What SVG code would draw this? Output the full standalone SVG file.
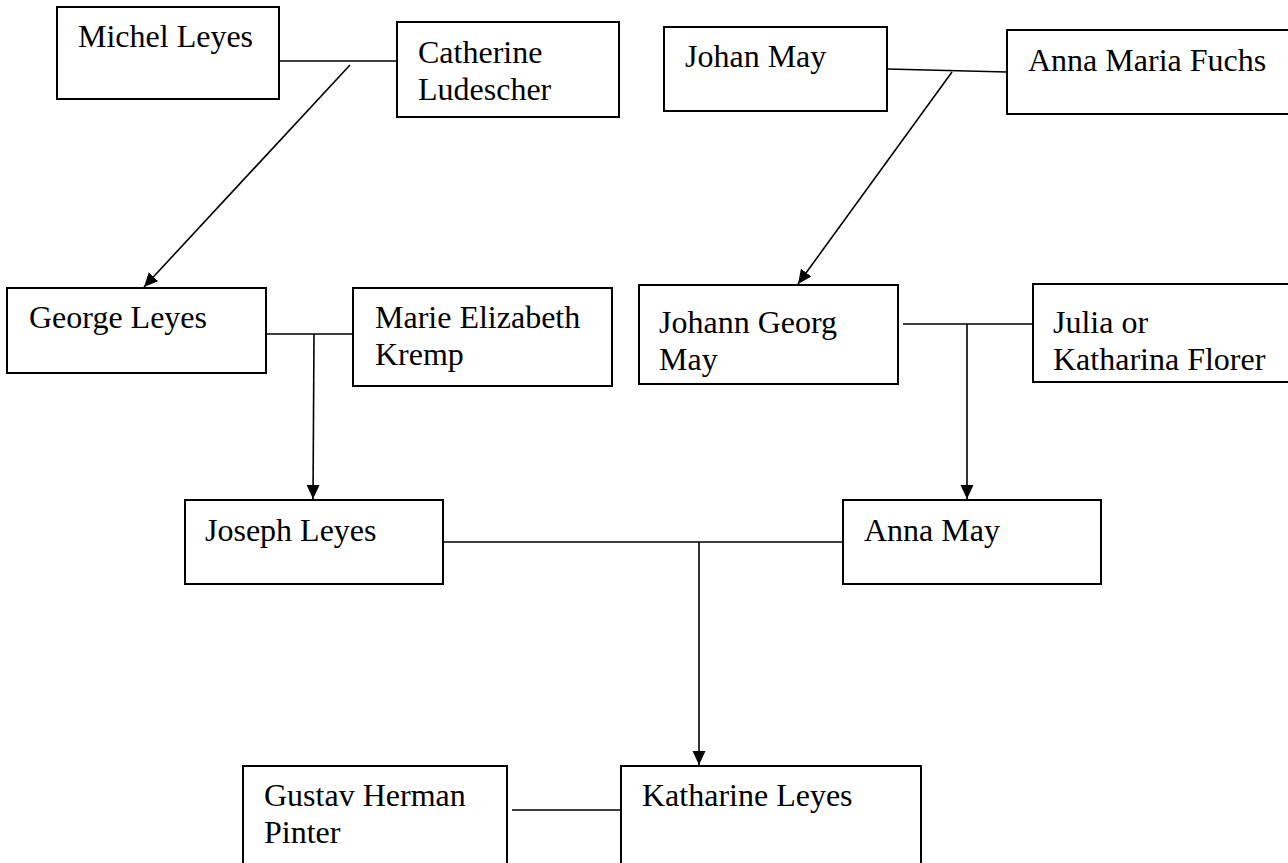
<svg xmlns="http://www.w3.org/2000/svg" width="1288" height="863" viewBox="0 0 1288 863">
<style>
.box{fill:#fff;stroke:#000;stroke-width:2}
.t{font-family:"Liberation Serif","Times New Roman",serif;font-size:32px;fill:#000}
.c{stroke:#000;stroke-width:1.6;fill:none}
.a{marker-end:url(#arr)}
</style>
<defs>
<marker id="arr" markerUnits="userSpaceOnUse" markerWidth="15" markerHeight="14" refX="14" refY="6.5" orient="auto" viewBox="0 0 15 14">
<path d="M0,0 L14,6.5 L0,13 z" fill="#000"/>
</marker>
</defs>
<rect width="1288" height="863" fill="#fff"/>
<g id="connectors">
<line class="c" x1="279" y1="61" x2="397" y2="61"/>
<line class="c a" x1="350" y1="65" x2="144" y2="287"/>
<line class="c" x1="887" y1="69" x2="1007" y2="72"/>
<line class="c a" x1="952" y1="72" x2="798" y2="284"/>
<line class="c" x1="266" y1="334" x2="353" y2="334"/>
<line class="c a" x1="314" y1="334" x2="313" y2="499"/>
<line class="c" x1="903" y1="324" x2="1033" y2="324"/>
<line class="c a" x1="967" y1="324" x2="967" y2="499"/>
<line class="c" x1="443" y1="542" x2="843" y2="542"/>
<line class="c a" x1="699" y1="542" x2="699" y2="765"/>
<line class="c" x1="512" y1="810" x2="621" y2="810"/>
</g>
<g id="michel"><rect class="box" x="57" y="7" width="222" height="92"/><text class="t" x="78" y="47">Michel Leyes</text></g>
<g id="catherine"><rect class="box" x="397" y="22" width="222" height="95"/><text class="t" x="418" y="63">Catherine</text><text class="t" x="418" y="100">Ludescher</text></g>
<g id="johan"><rect class="box" x="664" y="27" width="223" height="84"/><text class="t" x="685" y="67">Johan May</text></g>
<g id="annamaria"><rect class="box" x="1007" y="30" width="300" height="84"/><text class="t" x="1028" y="71">Anna Maria Fuchs</text></g>
<g id="george"><rect class="box" x="7" y="288" width="259" height="85"/><text class="t" x="29" y="328">George Leyes</text></g>
<g id="marie"><rect class="box" x="353" y="288" width="259" height="98"/><text class="t" x="375" y="328">Marie Elizabeth</text><text class="t" x="375" y="365">Kremp</text></g>
<g id="johanngeorg"><rect class="box" x="639" y="285" width="259" height="99"/><text class="t" x="659" y="333">Johann Georg</text><text class="t" x="659" y="370">May</text></g>
<g id="julia"><rect class="box" x="1033" y="284" width="280" height="98"/><text class="t" x="1053" y="333">Julia or</text><text class="t" x="1053" y="370">Katharina Florer</text></g>
<g id="joseph"><rect class="box" x="185" y="500" width="258" height="84"/><text class="t" x="205" y="541">Joseph Leyes</text></g>
<g id="annamay"><rect class="box" x="843" y="500" width="258" height="84"/><text class="t" x="864" y="541">Anna May</text></g>
<g id="gustav"><rect class="box" x="243" y="766" width="264" height="120"/><text class="t" x="264" y="806">Gustav Herman</text><text class="t" x="264" y="843">Pinter</text></g>
<g id="katharine"><rect class="box" x="621" y="766" width="300" height="120"/><text class="t" x="642" y="806">Katharine Leyes</text></g>
</svg>
